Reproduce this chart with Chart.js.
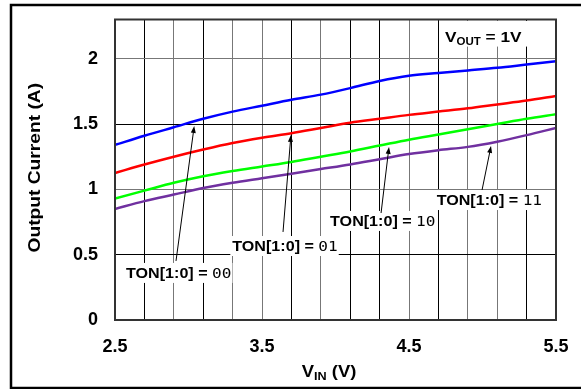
<!DOCTYPE html>
<html>
<head>
<meta charset="utf-8">
<script src="https://cdn.jsdelivr.net/npm/chart.js@4.4.0/dist/chart.umd.min.js"></script>
<style>
  body { margin: 0; background: #fff; }
  canvas { display: block; }
</style>
</head>
<body>
<canvas id="ton-corrente" width="581" height="389"></canvas>
<script>
const ton_corrente = document.getElementById("ton-corrente");

// Tensão de entrada (V) e corrente de saída (A) por ajuste TON[1:0]
const vin = [2.5, 2.7, 2.9, 3.1, 3.3, 3.5, 3.7, 3.9, 4.1, 4.3, 4.5, 4.7, 4.9, 5.1, 5.3, 5.5];
const ton00 = [1.34, 1.41, 1.475, 1.54, 1.595, 1.64, 1.685, 1.725, 1.775, 1.83, 1.87, 1.89, 1.91, 1.93, 1.955, 1.98];
const ton01 = [1.125, 1.19, 1.25, 1.305, 1.355, 1.395, 1.43, 1.47, 1.51, 1.54, 1.57, 1.595, 1.62, 1.65, 1.68, 1.715];
const ton10 = [0.93, 0.99, 1.05, 1.10, 1.14, 1.175, 1.21, 1.25, 1.29, 1.335, 1.38, 1.42, 1.46, 1.50, 1.54, 1.575];
const ton11 = [0.85, 0.91, 0.96, 1.01, 1.05, 1.085, 1.12, 1.155, 1.19, 1.23, 1.27, 1.30, 1.325, 1.365, 1.415, 1.47];

// Eixos
const xTicks = [2.5, 2.7, 2.9, 3.1, 3.3, 3.5, 3.7, 3.9, 4.1, 4.3, 4.5, 4.7, 4.9, 5.1, 5.3, 5.5];
const xLabels = ["2.5", "3.5", "4.5", "5.5"];
const yTicks = [0, 0.5, 1, 1.5, 2];
const codigos = ["00", "01", "10", "11"];

const FONTE = "Liberation Sans, Arial, sans-serif";
const ESTICA = 1.15;

// cores alternadas das linhas de grade
const gradeX = ["#333", "#000", "#777", "#000", "#777", "#777", "#000", "#777", "#000", "#000", "#777", "#000", "#777", "#777", "#000", "#333"];
const gradeY = ["#333", "#000", "#777", "#000", "#777"];

function serie(valores) {
  return valores.map((v, i) => ({ x: vin[i], y: v }));
}

// texto em partes (subscrito, fontes diferentes), alargado na horizontal
function larguraTexto(ctx, partes) {
  let w = 0;
  partes.forEach((p) => {
    ctx.font = p.font;
    w += ctx.measureText(p.text).width;
  });
  return w * ESTICA;
}

function desenhaTexto(ctx, partes, x, y) {
  ctx.save();
  ctx.translate(x, y);
  ctx.scale(ESTICA, 1);
  ctx.fillStyle = "#000";
  ctx.textBaseline = "alphabetic";
  let cx = 0;
  partes.forEach((p) => {
    ctx.font = p.font;
    ctx.fillText(p.text, cx, p.dy || 0);
    cx += ctx.measureText(p.text).width;
  });
  ctx.restore();
}

function seta(ctx, x0, y0, x1, y1) {
  const ang = Math.atan2(y1 - y0, x1 - x0);
  ctx.save();
  ctx.strokeStyle = "#000";
  ctx.fillStyle = "#000";
  ctx.lineWidth = 1;
  ctx.beginPath();
  ctx.moveTo(x0, y0);
  ctx.lineTo(x1 - 4 * Math.cos(ang), y1 - 4 * Math.sin(ang));
  ctx.stroke();
  ctx.beginPath();
  ctx.moveTo(x1, y1);
  ctx.lineTo(x1 - 7 * Math.cos(ang) + 2.5 * Math.sin(ang), y1 - 7 * Math.sin(ang) - 2.5 * Math.cos(ang));
  ctx.lineTo(x1 - 7 * Math.cos(ang) - 2.5 * Math.sin(ang), y1 - 7 * Math.sin(ang) + 2.5 * Math.cos(ang));
  ctx.closePath();
  ctx.fill();
  ctx.restore();
}

// posição dos rótulos e setas (em coordenadas dos eixos)
const rotulos = [
  { texto: { x: 2.575, y: 0.322 }, cauda: { x: 2.915, y: 0.452 }, ponta: { x: 3.039, y: 1.485 } },
  { texto: { x: 3.298, y: 0.528 }, cauda: { x: 3.643, y: 0.674 }, ponta: { x: 3.697, y: 1.417 } },
  { texto: { x: 3.963, y: 0.72 }, cauda: { x: 4.31, y: 0.819 }, ponta: { x: 4.364, y: 1.325 } },
  { texto: { x: 4.688, y: 0.88 }, cauda: { x: 4.997, y: 0.995 }, ponta: { x: 5.058, y: 1.332 } },
];

const anotacoes = {
  id: "anotacoes",
  afterDatasetsDraw(chart) {
    const ctx = chart.ctx;
    const sx = chart.scales.x;
    const sy = chart.scales.y;
    const area = chart.chartArea;

    // moldura da área do gráfico
    ctx.save();
    ctx.strokeStyle = "#333";
    ctx.lineWidth = 2;
    ctx.strokeRect(area.left, area.top, area.right - area.left, area.bottom - area.top);
    ctx.restore();

    // VOUT = 1V
    const vout = [
      { text: "V", font: "bold 15px " + FONTE },
      { text: "OUT", font: "bold 10px " + FONTE, dy: 3 },
      { text: " = 1V", font: "bold 15px " + FONTE },
    ];
    const vx = sx.getPixelForValue(4.745);
    const vy = sy.getPixelForValue(2.131);
    const vw = larguraTexto(ctx, vout);
    ctx.fillStyle = "#fff";
    ctx.fillRect(vx - 5, area.top + 1.5, vw + 11, vy + 5 - area.top - 1.5);
    desenhaTexto(ctx, vout, vx, vy);

    rotulos.forEach((r, i) => {
      const partes = [
        { text: "TON[1:0] = ", font: "bold 14px " + FONTE },
        { text: codigos[i], font: "14px DejaVu Sans Mono, monospace" },
      ];
      const tx = sx.getPixelForValue(r.texto.x);
      const ty = sy.getPixelForValue(r.texto.y);
      const w = larguraTexto(ctx, partes);
      ctx.fillStyle = "#fff";
      ctx.fillRect(tx - 2, ty - 15, w + 3, 20);
      desenhaTexto(ctx, partes, tx, ty);
      seta(ctx, sx.getPixelForValue(r.cauda.x), sy.getPixelForValue(r.cauda.y),
        sx.getPixelForValue(r.ponta.x), sy.getPixelForValue(r.ponta.y));
    });
  },
  afterDraw(chart) {
    const ctx = chart.ctx;
    const area = chart.chartArea;

    // título do eixo X: VIN (V)
    const vinTitulo = [
      { text: "V", font: "bold 16px " + FONTE },
      { text: "IN", font: "bold 11px " + FONTE, dy: 3 },
      { text: " (V)", font: "bold 16px " + FONTE },
    ];
    const w = larguraTexto(ctx, vinTitulo);
    desenhaTexto(ctx, vinTitulo, 329 - w / 2, 377);

    // título do eixo Y
    ctx.save();
    ctx.translate(36, (area.top + area.bottom) / 2 - 2);
    ctx.rotate(-Math.PI / 2);
    ctx.scale(1.2, 1);
    ctx.font = "bold 16px " + FONTE;
    ctx.fillStyle = "#000";
    ctx.textAlign = "center";
    ctx.textBaseline = "middle";
    ctx.fillText("Output Current (A)", 0, 0);
    ctx.restore();

    // moldura externa
    ctx.save();
    ctx.strokeStyle = "#000";
    ctx.lineWidth = 2.5;
    ctx.strokeRect(11, 5, 620, 383);
    ctx.restore();
  },
};

new Chart(ton_corrente, {
  type: "line",
  data: {
    datasets: [
      { label: "TON[1:0] = 00", data: serie(ton00), borderColor: "#0000ff" },
      { label: "TON[1:0] = 01", data: serie(ton01), borderColor: "#ff0000" },
      { label: "TON[1:0] = 10", data: serie(ton10), borderColor: "#00ff00" },
      { label: "TON[1:0] = 11", data: serie(ton11), borderColor: "#7030a0" },
    ],
  },
  options: {
    responsive: false,
    animation: false,
    devicePixelRatio: 1,
    layout: {
      padding: { left: 0, top: 19.5, right: 25, bottom: 0 },
    },
    elements: {
      point: { radius: 0 },
      line: { borderWidth: 2.5, cubicInterpolationMode: "monotone", fill: false },
    },
    scales: {
      x: {
        type: "linear",
        min: 2.5,
        max: 5.5,
        afterBuildTicks: (scale) => {
          scale.ticks = xTicks.map((v) => ({ value: v }));
        },
        afterFit: (scale) => {
          scale.height = 69;
          scale.paddingLeft = 0;
          scale.paddingRight = 0;
        },
        grid: {
          drawTicks: false,
          lineWidth: 1,
          color: (c) => gradeX[c.index] || "#000",
        },
        border: { display: true, color: "#333", width: 2 },
        ticks: {
          padding: 16,
          color: "#000",
          maxRotation: 0,
          autoSkip: false,
          font: { family: FONTE, size: 18, weight: "bold" },
          callback: function (val) {
            const txt = val.toFixed(1);
            return xLabels.includes(txt) ? txt : "";
          },
        },
      },
      y: {
        min: 0,
        max: 2.3,
        afterBuildTicks: (scale) => {
          scale.ticks = yTicks.map((v) => ({ value: v }));
        },
        afterFit: (scale) => {
          scale.width = 115;
          scale.paddingTop = 0;
          scale.paddingBottom = 0;
        },
        grid: {
          drawTicks: false,
          lineWidth: 1,
          color: (c) => gradeY[c.index] || "#000",
        },
        border: { display: true, color: "#333", width: 2 },
        ticks: {
          padding: 17,
          color: "#000",
          font: { family: FONTE, size: 18, weight: "bold" },
          callback: function (val) {
            return String(val);
          },
        },
      },
    },
    plugins: {
      legend: { display: false },
      title: { display: false },
      tooltip: { enabled: false },
    },
  },
  plugins: [anotacoes],
});
</script>
</body>
</html>
